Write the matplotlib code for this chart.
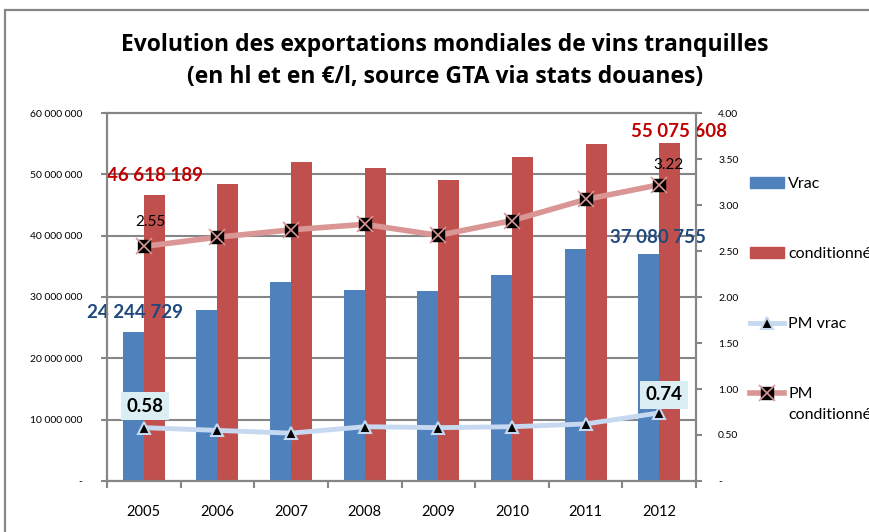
import matplotlib
matplotlib.use('Agg')
import matplotlib.pyplot as plt
from matplotlib.patches import Patch, Rectangle
from matplotlib.ticker import FuncFormatter, FixedLocator
import numpy as np

years = ['2005', '2006', '2007', '2008', '2009', '2010', '2011', '2012']
vrac = [24244729, 27800000, 32500000, 31200000, 31000000, 33550000, 37800000, 37080755]
cond = [46618189, 48400000, 52000000, 51000000, 49050000, 52850000, 55000000, 55075608]
pm_vrac = [0.58, 0.55, 0.52, 0.59, 0.58, 0.59, 0.62, 0.74]
pm_cond = [2.55, 2.65, 2.73, 2.79, 2.67, 2.83, 3.06, 3.22]

title = 'Evolution des exportations mondiales de vins tranquilles\n(en hl et en €/l, source GTA via stats douanes)'

font = 'Lato'
blue = '#4f81bd'
red = '#c0504d'
pm_blue = '#c6d9f1'
pm_red = '#d99694'
gray = '#868686'
lab_blue = '#1f497d'
lab_red = '#c00000'

plt.rcParams['font.family'] = [font, 'DejaVu Sans']

###############################################################################

fig = plt.figure(figsize=(8.7, 5.32), dpi=100)
# chart area border (only top and left edges are visible in the crop)
fig.patches.append(Rectangle((5/870, -0.1), 1.2, 1 - 10/532 + 0.1, transform=fig.transFigure,
                             fill=False, edgecolor=gray, linewidth=1.6))

ax = fig.add_axes([107/870, 51/532, 589/870, 368/532])
x = np.arange(len(years))
w = 0.285
ax.bar(x - w/2, vrac, w, color=blue, zorder=2)
ax.bar(x + w/2, cond, w, color=red, zorder=2)
ax.set_xlim(-0.5, len(years) - 0.5)
ax.set_ylim(0, 60e6)
ax.set_yticks(np.arange(0, 60e6 + 1, 10e6))
ax.yaxis.set_major_formatter(FuncFormatter(
    lambda v, p: '-' if v == 0 else f'{int(v):,}'.replace(',', ' ')))
ax.grid(axis='y', color=gray, linewidth=1.5, zorder=0)
ax.set_axisbelow(True)

ax.set_xticks(x)
ax.set_xticklabels(years)
ax.xaxis.set_minor_locator(FixedLocator(np.arange(-0.5, len(years), 1)))
ax.tick_params(axis='x', which='major', length=0, pad=17, labelsize=10.5)
ax.tick_params(axis='x', which='minor', length=5, width=1.5, color=gray)
ax.tick_params(axis='y', length=4, width=1.5, color=gray, pad=14, labelsize=7.5)
for s in ax.spines.values():
    s.set_color(gray)
    s.set_linewidth(1.5)

ax2 = ax.twinx()
ax2.set_ylim(0, 4)
ax2.set_yticks(np.arange(0, 4.01, 0.5))
ax2.yaxis.set_major_formatter(FuncFormatter(lambda v, p: '-' if v == 0 else f'{v:.2f}'))
ax2.tick_params(axis='y', length=4, width=1.5, color=gray, pad=12, labelsize=7.5)
for s in ax2.spines.values():
    s.set_color(gray)
    s.set_linewidth(1.5)

l_vrac, = ax2.plot(x, pm_vrac, color=pm_blue, lw=3.5, marker='^', ms=8,
                   mfc='black', mec=pm_blue, mew=1.5, zorder=3)
l_cond, = ax2.plot(x, pm_cond, color=pm_red, lw=4, marker='s', ms=9,
                   mfc='black', mec='black', zorder=3)
l_x, = ax2.plot(x, pm_cond, ls='none', marker='x', ms=11, mew=1.2, color=pm_red, zorder=4)

# data labels
bold = dict(fontsize=13.5, fontweight='bold', ha='center', va='center')
ax.annotate(f'{vrac[0]:,}'.replace(',', ' '), (x[0] - w/2, vrac[0]), xytext=(1, 14),
            textcoords='offset points', color=lab_blue, **bold)
ax.annotate(f'{vrac[-1]:,}'.replace(',', ' '), (x[-1] - w/2, vrac[-1]), xytext=(7, 11.5),
            textcoords='offset points', color=lab_blue, **bold)
ax.annotate(f'{cond[0]:,}'.replace(',', ' '), (x[0] + w/2, cond[0]), xytext=(0.5, 14),
            textcoords='offset points', color=lab_red, **bold)
ax.annotate(f'{cond[-1]:,}'.replace(',', ' '), (x[-1] + w/2, cond[-1]), xytext=(7, 8.5),
            textcoords='offset points', color=lab_red, **bold)

box = dict(boxstyle='square,pad=0.3', fc='#dbeef4', ec='none')
ax2.annotate(f'{pm_vrac[0]:.2f}', (x[0], pm_vrac[0]), xytext=(1, 15.5),
             textcoords='offset points', color='black', bbox=box, zorder=5, **bold)
ax2.annotate(f'{pm_vrac[-1]:.2f}', (x[-1], pm_vrac[-1]), xytext=(3.6, 13),
             textcoords='offset points', color='black', bbox=box, zorder=5, **bold)
ax2.annotate(f'{pm_cond[0]:.2f}', (x[0], pm_cond[0]), xytext=(4.5, 17.5),
             textcoords='offset points', fontsize=11, ha='center', va='center')
ax2.annotate(f'{pm_cond[-1]:.2f}', (x[-1], pm_cond[-1]), xytext=(7, 14.5),
             textcoords='offset points', fontsize=11, ha='center', va='center')

fig.text(445/870, 1 - 61/532, title, fontsize=16.5, fontweight='bold',
         family=['Open Sans', 'DejaVu Sans'], ha='center', va='center', linespacing=1.45)

handles = [Patch(color=blue), Patch(color=red), l_vrac, (l_cond, l_x)]
labels = ['Vrac', 'conditionné', 'PM vrac', 'PM']
leg = fig.legend(handles, labels, loc='upper left', bbox_to_anchor=(750/870, 1 - 177/532),
                 frameon=False, fontsize=11.5, labelspacing=3.5, handlelength=2.1,
                 handletextpad=0.3, borderpad=0, borderaxespad=0)
# second line of the last legend label, hanging under "PM"
fig.add_artist(plt.Annotation('conditionné', xy=(0, 0), xycoords=leg.get_texts()[-1],
                              xytext=(0, -4.5), textcoords='offset points',
                              fontsize=11.5, ha='left', va='top', zorder=6))

fig.canvas.draw()
fig.savefig('out.png', dpi=100)
